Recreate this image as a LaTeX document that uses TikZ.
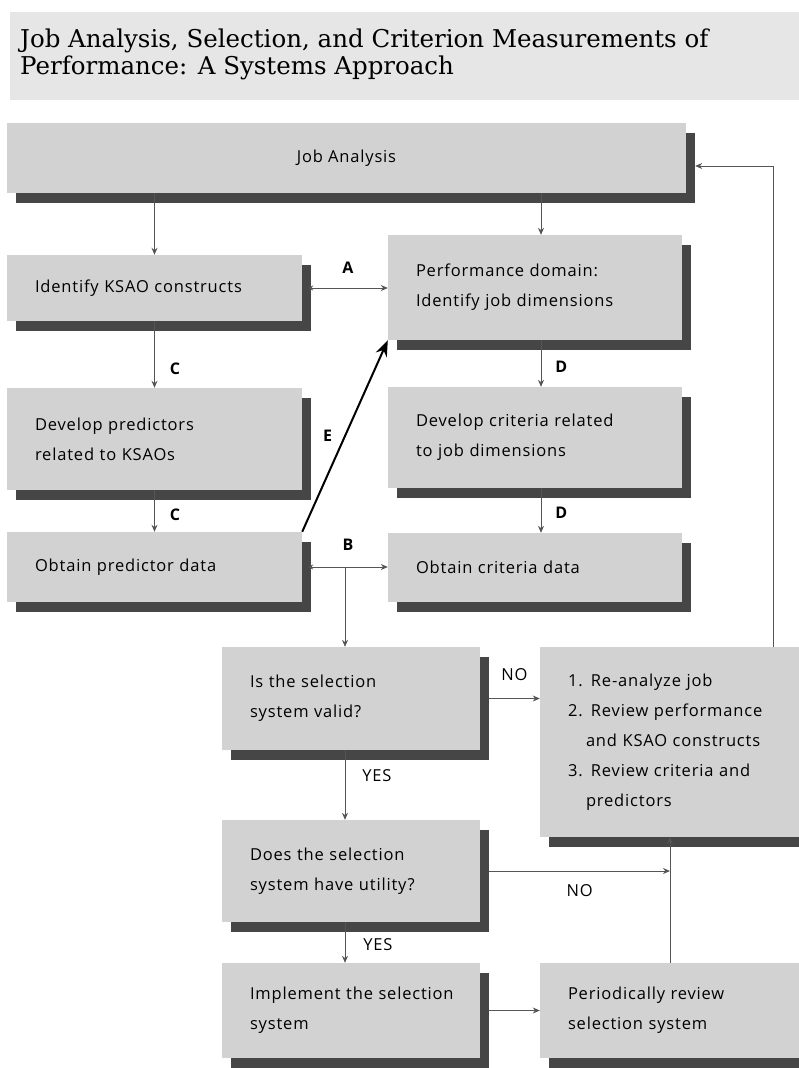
\documentclass[tikz,border=0pt]{standalone}
\usepackage{fontspec}
\setmainfont{DejaVu Serif}
\setsansfont[LetterSpace=5]{Open Sans}
\usepackage{tikz}
\usetikzlibrary{positioning,calc,shadows,arrows.meta}
\definecolor{BoxGray}{RGB}{210,210,210}
\definecolor{TitleGray}{RGB}{230,230,230}
\definecolor{ShadowGray}{RGB}{70,70,70}
\definecolor{LineGray}{RGB}{85,85,85}
\tikzset{
    stepbox/.style={rectangle, fill=BoxGray, inner xsep=28pt, inner ysep=0pt, align=left,
        font=\sffamily\fontsize{16.5}{30}\selectfont,
        general shadow={fill=ShadowGray, shadow xshift=9pt, shadow yshift=-10pt}},
    flow/.style={draw=LineGray, line width=0.8pt, -{Stealth[length=7pt,width=6pt]}},
    twoway/.style={flow, {Stealth[length=5pt,width=5pt]}-{Stealth[length=7pt,width=6pt]}},
    letter/.style={font=\sffamily\bfseries\fontsize{16}{16}\selectfont, inner sep=0pt},
    answer/.style={font=\sffamily\fontsize{16.5}{16.5}\selectfont, inner sep=0pt}
}
\begin{document}
\begin{tikzpicture}[x=1pt, y=-1pt,
                % thick link from predictor data back to the domain
                boldlink/.style={draw=black, line width=2pt, -{Stealth[length=16pt,width=12pt]}}
            ]
                \useasboundingbox (0,0) rectangle (799,1068);
                % title band
                \fill[TitleGray] (10,12) rectangle (800,100);
                \node[anchor=north west, align=left, inner sep=0pt,
                      font=\fontsize{24.5}{27}\selectfont] (title) at (20,29)
                    {Job Analysis, Selection, and Criterion Measurements of\\Performance: A Systems Approach};
                % boxes
                \node[stepbox, align=center, minimum width=679, minimum height=70] (ja) at (346.5,158) {Job Analysis};
                \node[stepbox, minimum width=295, minimum height=66, text width=239] (ksao) at (154.5,288) {Identify KSAO constructs};
                \node[stepbox, minimum width=295, minimum height=102, text width=239] (pred) at (154.5,439) {Develop predictors\\related to KSAOs};
                \node[stepbox, minimum width=295, minimum height=70, text width=239] (pdata) at (154.5,567) {Obtain predictor data};
                \node[stepbox, minimum width=294, minimum height=105, text width=238] (perf) at (535,287.5) {Performance domain:\\Identify job dimensions};
                \node[stepbox, minimum width=294, minimum height=101, text width=238] (crit) at (535,437.5) {Develop criteria related\\to job dimensions};
                \node[stepbox, minimum width=294, minimum height=69, text width=238] (cdata) at (535,567.5) {Obtain criteria data};
                \node[stepbox, minimum width=258, minimum height=103, text width=202] (valid) at (351,698.5) {Is the selection\\system valid?};
                \node[stepbox, minimum width=258, minimum height=102, text width=202] (util) at (351,871) {Does the selection\\system have utility?};
                \node[stepbox, minimum width=258, minimum height=95, text width=202] (impl) at (351,1010.5) {Implement the selection\\system};
                \node[stepbox, minimum width=260, minimum height=190, text width=204] (review) at (670,742)
                    {1. Re-analyze job\\2. Review performance\\\hspace*{18pt}and KSAO constructs\\3. Review criteria and\\\hspace*{18pt}predictors};
                \node[stepbox, minimum width=260, minimum height=95, text width=204] (period) at (670,1010.5) {Periodically review\\selection system};
                % left column
                \draw[flow] (ksao.north |- ja.south) -- (ksao.north);
                \draw[flow] (ksao.south) -- (pred.north) node[letter, pos=0.72, right=15pt] (c1) {C};
                \draw[flow] (pred.south) -- (pdata.north) node[letter, pos=0.6, right=15pt] (c2) {C};
                % right column
                \draw[flow] ([xshift=6pt]perf.north |- ja.south) -- ([xshift=6pt]perf.north);
                \draw[flow] ([xshift=6pt]perf.south) -- ([xshift=6pt]crit.north) node[letter, pos=0.57, right=14pt] (d1) {D};
                \draw[flow] ([xshift=6pt]crit.south) -- ([xshift=6pt]cdata.north) node[letter, pos=0.55, right=14pt] (d2) {D};
                % links across
                \draw[twoway] ([xshift=6pt]ksao.east) -- (ksao.east -| perf.west) node[letter, midway, above=14pt] (a) {A};
                \draw[twoway] ([xshift=6pt]pdata.east) -- (pdata.east -| cdata.west) node[letter, midway, above=16pt] (b) {B};
                \draw[boldlink] (pdata.north east) -- (perf.south west) node[letter, midway, left=12pt] (e) {E};
                % validation loop
                \coordinate (split) at (345,567);
                \draw[flow] (split) -- (split |- valid.north);
                \draw[flow] ([xshift=9pt]valid.east) -- (valid.east -| review.west) node[answer, midway, above=17pt] (no1) {NO};
                \draw[flow] ([xshift=-6pt]valid.south) -- ([xshift=-6pt]util.north) node[answer, pos=0.36, right=17pt] (yes1) {YES};
                \draw[flow] ([xshift=-6pt]util.south) -- ([xshift=-6pt]impl.north) node[answer, pos=0.56, right=18pt] (yes2) {YES};
                \draw[flow] ([xshift=9pt]util.east) -- (util.east -| period.north) node[answer, midway, below=13pt] (no2) {NO};
                \draw[flow] ([xshift=9pt]impl.east) -- (impl.east -| period.west);
                \draw[flow] (period.north) -- (review.south);
                \draw[flow] ([xshift=103pt]review.north) |- ([xshift=9pt,yshift=-8pt]ja.east);
            \end{tikzpicture}
\end{document}
